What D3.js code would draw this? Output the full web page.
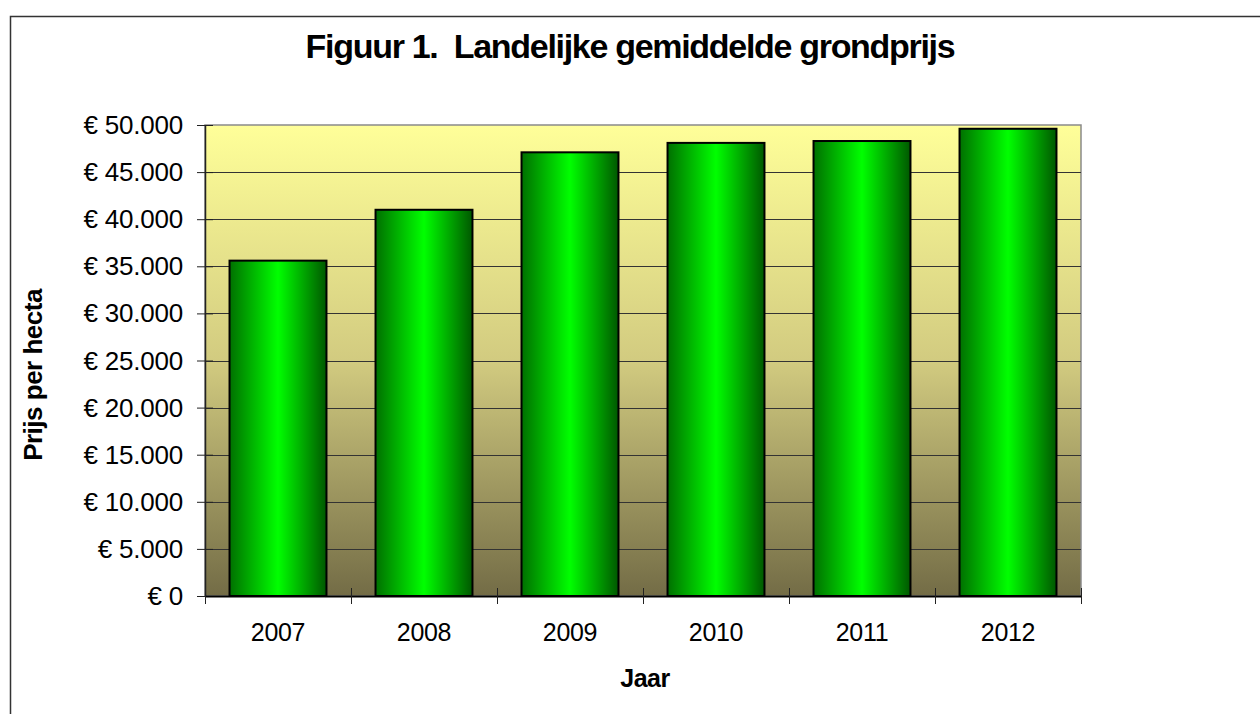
<!DOCTYPE html>
<html><head><meta charset="utf-8">
<script src="https://cdn.jsdelivr.net/npm/d3@7"></script>
<style>html,body{margin:0;padding:0;background:#fff;} svg{display:block;} text{white-space:pre;}</style>
</head><body>
<script>
const categories = ["2007","2008","2009","2010","2011","2012"];
const values = [35600, 41000, 47100, 48100, 48300, 49600];
const yTicks = [0,5000,10000,15000,20000,25000,30000,35000,40000,45000,50000];
const titleText = "Figuur 1.  Landelijke gemiddelde grondprijs";
const yTitle = "Prijs per hecta";
const xTitle = "Jaar";

const W = 1260, H = 714;
const m = {left:205, top:125, right:1081, bottom:596};
const font = "'Liberation Sans', Arial, sans-serif";

const svg = d3.select("body").append("svg").attr("width",W).attr("height",H);
const defs = svg.append("defs");
const bg = defs.append("linearGradient").attr("id","bg").attr("x1",0).attr("y1",0).attr("x2",0).attr("y2",1);
bg.append("stop").attr("offset","0%").attr("stop-color","#FFFF99");
bg.append("stop").attr("offset","50%").attr("stop-color","#D2CB80");
bg.append("stop").attr("offset","100%").attr("stop-color","#736C46");
const bar = defs.append("linearGradient").attr("id","bar").attr("x1",0).attr("y1",0).attr("x2",1).attr("y2",0);
bar.append("stop").attr("offset","0%").attr("stop-color","#007000");
bar.append("stop").attr("offset","50%").attr("stop-color","#00FF00");
bar.append("stop").attr("offset","100%").attr("stop-color","#005800");

// outer border
svg.append("rect").attr("x",10.5).attr("y",16.5).attr("width",W+20).attr("height",H+20)
  .attr("fill","#fff").attr("stroke","#333").attr("stroke-width",1.5);

const x = d3.scaleBand().domain(categories).range([m.left,m.right]).paddingInner(0.336).paddingOuter(0.168);
const y = d3.scaleLinear().domain([0,50000]).range([m.bottom,m.top]);

// plot background
svg.append("rect").attr("x",m.left).attr("y",m.top).attr("width",m.right-m.left).attr("height",m.bottom-m.top)
  .attr("fill","url(#bg)").attr("stroke","#8a8a8a").attr("stroke-width",1.5);

// gridlines
svg.append("g").selectAll("line").data(yTicks.filter(d=>d>0 && d<50000)).join("line")
  .attr("x1",m.left).attr("x2",m.right).attr("y1",d=>Math.round(y(d))+0.5).attr("y2",d=>Math.round(y(d))+0.5)
  .attr("stroke","#333").attr("stroke-width",1);

// bars
svg.append("g").selectAll("rect").data(values).join("rect")
  .attr("x",(d,i)=>x(categories[i])).attr("width",x.bandwidth())
  .attr("y",d=>y(d)).attr("height",d=>y(0)-y(d))
  .attr("fill","url(#bar)").attr("stroke","#000").attr("stroke-width",2);

// y axis
const fmt = d => "€ " + d3.format(",")(d).replace(/,/g,".");
const yAxis = d3.axisLeft(y).tickValues(yTicks).tickFormat(fmt).tickSizeInner(8).tickSizeOuter(0).tickPadding(14);
const gy = svg.append("g").attr("transform",`translate(${m.left},0)`).call(yAxis);
gy.select(".domain").attr("stroke","#222").attr("stroke-width",1.5);
gy.selectAll(".tick line").attr("stroke","#222").attr("x2",8).attr("x1",-8);
gy.selectAll(".tick text").attr("font-family",font).attr("font-size",26).attr("fill","#000")
  .attr("letter-spacing","-0.2px").attr("dy","0.33em");

// x axis
const xAxis = d3.axisBottom(x).tickSize(0).tickPadding(0);
const gx = svg.append("g").attr("transform",`translate(0,${m.bottom})`).call(xAxis);
gx.select(".domain").attr("stroke","#000").attr("stroke-width",2);
gx.selectAll(".tick text").attr("font-family",font).attr("font-size",25).attr("fill","#000")
  .attr("letter-spacing","-0.3px").attr("y",45).attr("dy",0);
// category boundary ticks
const bounds = categories.map(c=>x(c)-x.step()*x.paddingInner()/2).concat([m.right]);
gx.append("g").selectAll("line").data(bounds).join("line")
  .attr("x1",d=>Math.round(d)+0.5).attr("x2",d=>Math.round(d)+0.5).attr("y1",-8).attr("y2",8)
  .attr("stroke","#222").attr("stroke-width",1);

// titles
svg.append("text").attr("x",630).attr("y",58).attr("text-anchor","middle")
  .attr("font-family",font).attr("font-weight","bold").attr("font-size",34).attr("letter-spacing","-1.3px")
  .text(titleText);
svg.append("text").attr("transform","translate(42,375) rotate(-90)").attr("text-anchor","middle")
  .attr("font-family",font).attr("font-weight","bold").attr("font-size",26).attr("letter-spacing","-0.5px")
  .text(yTitle);
svg.append("text").attr("x",645).attr("y",687).attr("text-anchor","middle")
  .attr("font-family",font).attr("font-weight","bold").attr("font-size",25).attr("letter-spacing","-0.5px")
  .text(xTitle);
</script>
</body></html>
